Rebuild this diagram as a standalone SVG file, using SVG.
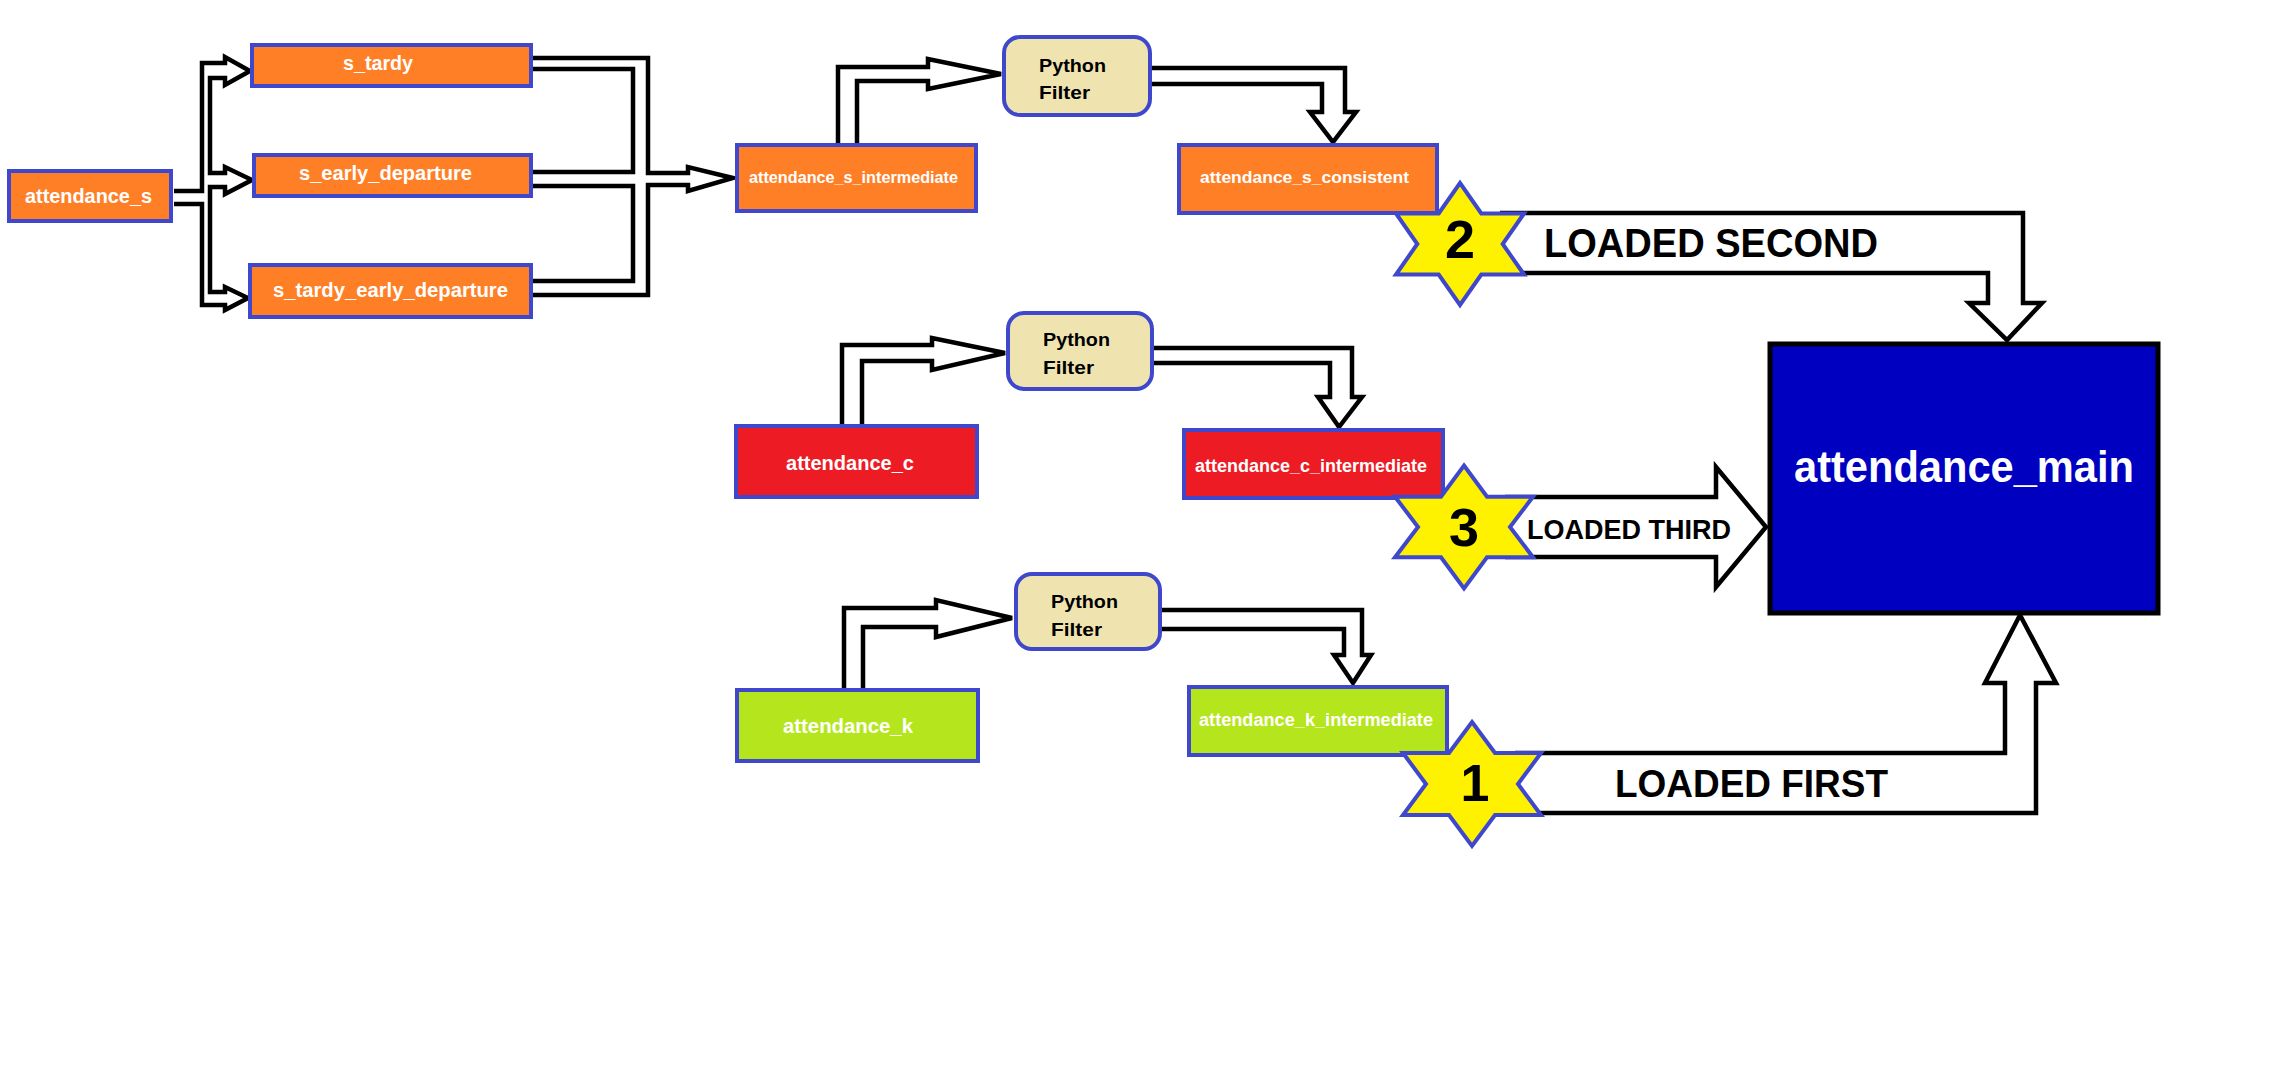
<svg xmlns="http://www.w3.org/2000/svg" width="2296" height="1066" viewBox="0 0 2296 1066">
<style>
.bg{fill:#ffffff}
.box{stroke:#3F48CC;stroke-width:4}
.orange{fill:#FF7F27}
.red{fill:#ED1C24}
.lime{fill:#B5E61D}
.filter{fill:#EFE4B0;stroke:#3F48CC;stroke-width:4}
.main{fill:#0000C0;stroke:#000000;stroke-width:5}
.conn{fill:none;stroke:#000000;stroke-width:4.5;stroke-linejoin:miter}
.star{fill:#FFF200;stroke:#3F48CC;stroke-width:4;stroke-linejoin:miter}
.wt{fill:#ffffff;font-family:"Liberation Sans",Arial,sans-serif;font-weight:bold}
.bt{fill:#000000;font-family:"Liberation Sans",Arial,sans-serif;font-weight:bold}
</style>
<rect class="bg" x="0" y="0" width="2296" height="1066"/>

<g id="connectors">
  <path class="conn" d="M174,191 H202 V63 H225 V57 L250,71 L225,85 V78 H210 V173 H225 V167 L252,180 L225,194 V187 H210 V292 H225 V287 L248,298 L225,310 V305 H202 V204 H174"/>
  <path class="conn" d="M533,58 H648 V173 H688 V167 L733,178 L688,191 V185 H648 V295 H533"/>
  <path class="conn" d="M533,69 H633 V172 H533"/>
  <path class="conn" d="M533,186 H633 V281 H533"/>
  <path class="conn" d="M838,143 V67 H928 V59 L1001,74 L928,89 V81 H857 V143"/>
  <path class="conn" d="M1152,68 H1345 V112 H1356 L1333,142 L1310,112 H1322 V84 H1152"/>
  <path class="conn" d="M842,424 V345 H932 V338 L1005,353 L932,370 V361 H862 V424"/>
  <path class="conn" d="M1154,348 H1352 V397 H1362 L1339,427 L1318,397 H1330 V363 H1154"/>
  <path class="conn" d="M844,688 V608 H936 V600 L1012,618 L936,637 V627 H863 V688"/>
  <path class="conn" d="M1162,610 H1362 V655 H1371 L1353,683 L1334,655 H1344 V629 H1162"/>
  <path class="conn" d="M1500,213 H2023 V303 H2042 L2007,340 L1969,303 H1988 V273 H1500"/>
  <path class="conn" d="M1505,497 H1716 V467 L1766,527 L1716,587 V557 H1505"/>
  <path class="conn" d="M1515,753 H2005 V683 H1985 L2020,615 L2056,683 H2036 V813 H1515"/>
</g>

<g id="attendance_s">
  <rect class="box orange" x="9" y="171" width="162" height="50"/>
  <text class="wt" x="25" y="203" font-size="20" textLength="127" lengthAdjust="spacingAndGlyphs">attendance_s</text>
</g>
<g id="s_tardy">
  <rect class="box orange" x="252" y="45" width="279" height="41"/>
  <text class="wt" x="343" y="70" font-size="20" textLength="70" lengthAdjust="spacingAndGlyphs">s_tardy</text>
</g>
<g id="s_early_departure">
  <rect class="box orange" x="254" y="155" width="277" height="41"/>
  <text class="wt" x="299" y="180" font-size="20" textLength="173" lengthAdjust="spacingAndGlyphs">s_early_departure</text>
</g>
<g id="s_tardy_early_departure">
  <rect class="box orange" x="250" y="265" width="281" height="52"/>
  <text class="wt" x="273" y="297" font-size="20" textLength="235" lengthAdjust="spacingAndGlyphs">s_tardy_early_departure</text>
</g>
<g id="attendance_s_intermediate">
  <rect class="box orange" x="737" y="145" width="239" height="66"/>
  <text class="wt" x="749" y="183" font-size="16" textLength="209" lengthAdjust="spacingAndGlyphs">attendance_s_intermediate</text>
</g>
<g id="python_filter_s">
  <rect class="filter" x="1004" y="37" width="146" height="78" rx="16" ry="16"/>
  <text class="bt" x="1039" y="72" font-size="19" textLength="67" lengthAdjust="spacingAndGlyphs">Python</text>
  <text class="bt" x="1039" y="99" font-size="19" textLength="51" lengthAdjust="spacingAndGlyphs">Filter</text>
</g>
<g id="attendance_s_consistent">
  <rect class="box orange" x="1179" y="145" width="258" height="68"/>
  <text class="wt" x="1200" y="183" font-size="16" textLength="209" lengthAdjust="spacingAndGlyphs">attendance_s_consistent</text>
</g>
<g id="attendance_c">
  <rect class="box red" x="736" y="426" width="241" height="71"/>
  <text class="wt" x="786" y="470" font-size="20" textLength="128" lengthAdjust="spacingAndGlyphs">attendance_c</text>
</g>
<g id="python_filter_c">
  <rect class="filter" x="1008" y="313" width="144" height="76" rx="16" ry="16"/>
  <text class="bt" x="1043" y="346" font-size="19" textLength="67" lengthAdjust="spacingAndGlyphs">Python</text>
  <text class="bt" x="1043" y="374" font-size="19" textLength="51" lengthAdjust="spacingAndGlyphs">Filter</text>
</g>
<g id="attendance_c_intermediate">
  <rect class="box red" x="1184" y="430" width="259" height="68"/>
  <text class="wt" x="1195" y="472" font-size="18" textLength="232" lengthAdjust="spacingAndGlyphs">attendance_c_intermediate</text>
</g>
<g id="attendance_k">
  <rect class="box lime" x="737" y="690" width="241" height="71"/>
  <text class="wt" x="783" y="733" font-size="20" textLength="130" lengthAdjust="spacingAndGlyphs">attendance_k</text>
</g>
<g id="python_filter_k">
  <rect class="filter" x="1016" y="574" width="144" height="75" rx="16" ry="16"/>
  <text class="bt" x="1051" y="608" font-size="19" textLength="67" lengthAdjust="spacingAndGlyphs">Python</text>
  <text class="bt" x="1051" y="636" font-size="19" textLength="51" lengthAdjust="spacingAndGlyphs">Filter</text>
</g>
<g id="attendance_k_intermediate">
  <rect class="box lime" x="1189" y="687" width="258" height="68"/>
  <text class="wt" x="1199" y="726" font-size="18" textLength="234" lengthAdjust="spacingAndGlyphs">attendance_k_intermediate</text>
</g>
<g id="attendance_main">
  <rect class="main" x="1770" y="344" width="388" height="269"/>
  <text class="wt" x="1794" y="482" font-size="44" textLength="340" lengthAdjust="spacingAndGlyphs">attendance_main</text>
</g>

<g id="badge_2">
  <polygon class="star" points="1460,183 1481.3,213.5 1524,213.5 1502.7,244 1524,274.5 1481.3,274.5 1460,305 1438.7,274.5 1396,274.5 1417.3,244 1396,213.5 1438.7,213.5"/>
  <text class="bt" x="1460" y="258" font-size="54" text-anchor="middle">2</text>
</g>
<g id="badge_3">
  <polygon class="star" points="1464,465.5 1487,496.75 1533,496.75 1510,527 1533,557.25 1487,557.25 1464,588.5 1441,557.25 1395,557.25 1418,527 1395,496.75 1441,496.75"/>
  <text class="bt" x="1464" y="546" font-size="54" text-anchor="middle">3</text>
</g>
<g id="badge_1">
  <polygon class="star" points="1472,722 1495,753 1541,753 1518,784 1541,815 1495,815 1472,846 1449,815 1403,815 1426,784 1403,753 1449,753"/>
  <text class="bt" x="1475" y="801" font-size="52" text-anchor="middle">1</text>
</g>

<g id="labels">
  <text class="bt" x="1544" y="257" font-size="40" textLength="334" lengthAdjust="spacingAndGlyphs">LOADED SECOND</text>
  <text class="bt" x="1527" y="539" font-size="28" textLength="204" lengthAdjust="spacingAndGlyphs">LOADED THIRD</text>
  <text class="bt" x="1615" y="797" font-size="38" textLength="273" lengthAdjust="spacingAndGlyphs">LOADED FIRST</text>
</g>
</svg>
